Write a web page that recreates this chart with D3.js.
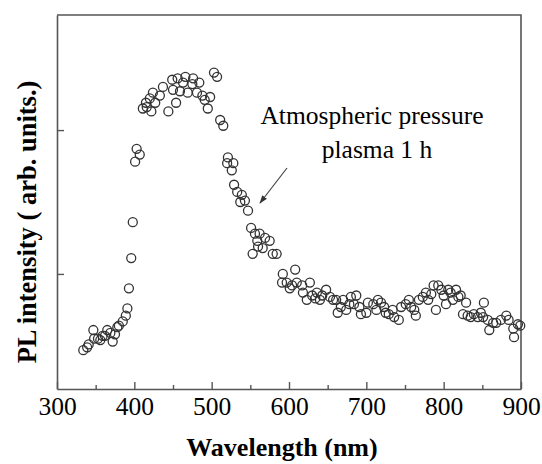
<!DOCTYPE html>
<html>
<head>
<meta charset="utf-8">
<script src="https://cdn.jsdelivr.net/npm/d3@7"></script>
<style>
  body { margin: 0; background: #fff; }
  svg { display: block; }
</style>
</head>
<body>
<div id="chart"></div>
<script>
// wavelength (nm)
var wavelengths = [334, 339, 341, 347, 348, 353, 356, 359, 362, 365, 369, 372, 375, 378, 380, 385, 389, 391, 393, 396,
  398, 401, 403, 407, 411, 415, 416, 420, 422, 424, 427, 433, 437, 444, 449, 450, 454, 456, 459, 463,
  466, 469, 475, 476, 481, 484, 488, 491, 495, 498, 503, 507, 511, 515, 520, 521, 528, 526, 529, 533,
  537, 539, 543, 547, 551, 553, 556, 559, 560, 562, 566, 569, 575, 579, 584, 591, 592, 597, 601, 604,
  608, 610, 617, 618, 623, 627, 630, 634, 636, 640, 643, 648, 653, 657, 661, 663, 667, 670, 674, 678,
  680, 684, 687, 691, 693, 700, 702, 709, 713, 715, 719, 723, 725, 729, 734, 736, 742, 745, 751, 755,
  758, 762, 764, 768, 773, 777, 780, 784, 787, 790, 793, 797, 800, 803, 806, 809, 812, 816, 819, 822,
  825, 829, 831, 835, 839, 844, 848, 851, 852, 857, 859, 864, 868, 874, 881, 884, 890, 891, 896, 899];
// PL intensity (arb. units)
var intensities = [0.47, 0.49, 0.51, 0.61, 0.55, 0.55, 0.54, 0.57, 0.57, 0.61, 0.59, 0.53, 0.58, 0.63, 0.64, 0.67, 0.71, 0.76, 0.90, 1.11,
  1.36, 1.78, 1.87, 1.83, 2.15, 2.19, 2.16, 2.22, 2.13, 2.26, 2.19, 2.24, 2.30, 2.13, 2.35, 2.28, 2.19, 2.36, 2.27, 2.33,
  2.37, 2.26, 2.32, 2.36, 2.26, 2.33, 2.24, 2.21, 2.15, 2.23, 2.40, 2.37, 2.07, 2.03, 1.77, 1.81, 1.77, 1.72, 1.62, 1.57,
  1.50, 1.55, 1.51, 1.44, 1.32, 1.14, 1.28, 1.23, 1.19, 1.28, 1.18, 1.25, 1.23, 1.14, 1.14, 0.94, 1.00, 0.94, 0.90, 0.92,
  1.03, 0.94, 0.92, 0.87, 0.82, 0.94, 0.85, 0.83, 0.87, 0.82, 0.85, 0.89, 0.84, 0.82, 0.82, 0.73, 0.77, 0.82, 0.75, 0.79,
  0.84, 0.79, 0.85, 0.77, 0.72, 0.73, 0.80, 0.79, 0.75, 0.82, 0.80, 0.77, 0.73, 0.72, 0.75, 0.70, 0.68, 0.77, 0.79, 0.82,
  0.77, 0.75, 0.71, 0.82, 0.84, 0.87, 0.82, 0.86, 0.92, 0.75, 0.92, 0.89, 0.85, 0.79, 0.89, 0.87, 0.82, 0.89, 0.84, 0.85,
  0.72, 0.80, 0.71, 0.70, 0.72, 0.70, 0.73, 0.70, 0.80, 0.68, 0.61, 0.66, 0.66, 0.68, 0.71, 0.68, 0.62, 0.56, 0.65, 0.64];

var xTicks = [300, 400, 500, 600, 700, 800, 900];
var xMinorTicks = [350, 450, 550, 650, 750, 850];
var yTicks = [1, 2];

var data = wavelengths.map((w, i) => ({wl: w, pl: intensities[i]}));

var width = 542, height = 464;
var margin = {top: 15, right: 21, bottom: 75, left: 57};
var serif = "'Liberation Serif', 'Times New Roman', serif";
var frameColor = "#555";

var xScale = d3.scaleLinear()
  .domain([300, 900])
  .range([margin.left, width - margin.right]);
var yScale = d3.scaleLinear()
  .domain([0.2, 2.8])
  .range([height - margin.bottom, margin.top]);

var svg = d3.select("#chart")
  .append("svg")
  .attr("width", width)
  .attr("height", height);

// frame (top + right)
svg.append("path")
  .attr("d", `M${margin.left},${margin.top}H${width - margin.right}V${height - margin.bottom}`)
  .attr("fill", "none")
  .attr("stroke", frameColor)
  .attr("stroke-width", 1.6);

// x axis, ticks pointing inward
var xAxis = svg.append("g")
  .attr("transform", `translate(0, ${height - margin.bottom})`)
  .call(d3.axisBottom(xScale).tickValues(xTicks).tickSizeInner(-7).tickSizeOuter(0).tickPadding(8));
xAxis.select(".domain").attr("stroke", frameColor).attr("stroke-width", 1.6);
xAxis.selectAll(".tick line").attr("stroke", frameColor).attr("stroke-width", 1.4);
xAxis.selectAll(".tick text")
  .attr("font-family", serif)
  .attr("font-size", 25.5)
  .attr("fill", "#000");

svg.append("g")
  .attr("transform", `translate(0, ${height - margin.bottom})`)
  .call(d3.axisBottom(xScale).tickValues(xMinorTicks).tickSize(-4).tickFormat(""))
  .call(g => g.select(".domain").remove())
  .selectAll(".tick line").attr("stroke", frameColor).attr("stroke-width", 1.4);

// y axis, no labels
var yAxis = svg.append("g")
  .attr("transform", `translate(${margin.left}, 0)`)
  .call(d3.axisLeft(yScale).tickValues(yTicks).tickSizeInner(-7).tickSizeOuter(0).tickFormat(""));
yAxis.select(".domain").attr("stroke", frameColor).attr("stroke-width", 1.6);
yAxis.selectAll(".tick line").attr("stroke", frameColor).attr("stroke-width", 1.4);

// data points
svg.append("g")
  .selectAll("circle")
  .data(data)
  .join("circle")
  .attr("cx", d => xScale(d.wl))
  .attr("cy", d => yScale(d.pl))
  .attr("r", 4.5)
  .attr("fill", "none")
  .attr("stroke", "#333")
  .attr("stroke-width", 1.3);

// annotation
var note = svg.append("text")
  .attr("font-family", serif)
  .attr("font-size", 25.5)
  .attr("fill", "#000")
  .attr("text-anchor", "middle");
note.append("tspan").attr("x", 372).attr("y", 124).text("Atmospheric pressure");
note.append("tspan").attr("x", 377).attr("y", 158).text("plasma 1 h");

svg.append("defs").append("marker")
  .attr("id", "arrow")
  .attr("viewBox", "0 0 10 10")
  .attr("refX", 9).attr("refY", 5)
  .attr("markerWidth", 7).attr("markerHeight", 7)
  .attr("orient", "auto")
  .append("path")
  .attr("d", "M0,1.5L10,5L0,8.5Z")
  .attr("fill", "#333");

svg.append("line")
  .attr("x1", 287).attr("y1", 168)
  .attr("x2", 260).attr("y2", 203)
  .attr("stroke", "#444")
  .attr("stroke-width", 1.2)
  .attr("marker-end", "url(#arrow)");

// axis titles
svg.append("text")
  .attr("x", 282)
  .attr("y", 456)
  .attr("text-anchor", "middle")
  .attr("font-family", serif)
  .attr("font-weight", "bold")
  .attr("font-size", 26)
  .text("Wavelength (nm)");

svg.append("text")
  .attr("x", 36)
  .attr("y", 222)
  .attr("text-anchor", "middle")
  .attr("font-family", serif)
  .attr("font-weight", "bold")
  .attr("font-size", 26.5)
  .attr("transform", "rotate(-90,36,222)")
  .text("PL intensity ( arb. units.)");
</script>
</body>
</html>
